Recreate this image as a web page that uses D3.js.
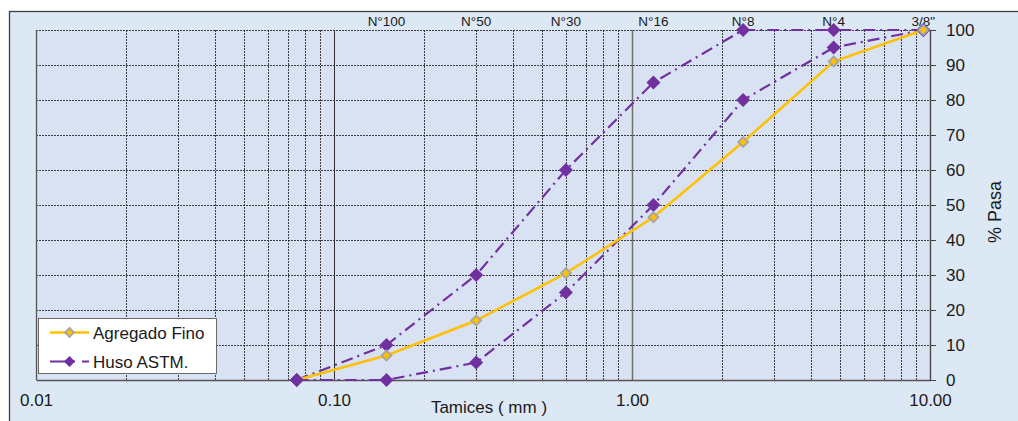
<!DOCTYPE html>
<html>
<head>
<meta charset="utf-8">
<script src="https://cdn.jsdelivr.net/npm/d3@7"></script>
<style>
  html, body { margin: 0; padding: 0; background: #ffffff; }
  svg { display: block; font-family: "Liberation Sans", Arial, sans-serif; }
</style>
</head>
<body>
<svg id="chart" width="1018" height="421"></svg>
<script>
// ---- data ----
const sieveSizes = [0.075, 0.15, 0.3, 0.6, 1.18, 2.36, 4.75, 9.5];
const sieveLabels = ["", "N°100", "N°50", "N°30", "N°16", "N°8", "N°4", "3/8\""];
const agregadoFino = [0, 7, 17, 30.5, 46.5, 68, 91, 100];
const husoSuperior = [0, 10, 30, 60, 85, 100, 100, 100];
const husoInferior = [0, 0, 5, 25, 50, 80, 95, 100];
const xTickValues = [0.01, 0.1, 1, 10];
const xTickLabels = ["0.01", "0.10", "1.00", "10.00"];
const yTickValues = [0, 10, 20, 30, 40, 50, 60, 70, 80, 90, 100];
const seriesNames = ["Agregado Fino", "Huso ASTM."];

// ---- layout ----
const svg = d3.select("#chart");
const plot = { left: 36, top: 30, right: 930, bottom: 380 };
const x = d3.scaleLog().domain([0.01, 10]).range([plot.left, plot.right]);
const y = d3.scaleLinear().domain([0, 100]).range([plot.bottom, plot.top]);

// outer panel
svg.append("rect").attr("x", 9.5).attr("y", 11.5).attr("width", 1020).attr("height", 420)
  .attr("fill", "#dde8f5").attr("stroke", "#404040").attr("stroke-width", 1.3);

// plot background
svg.append("rect").attr("x", plot.left).attr("y", plot.top)
  .attr("width", plot.right - plot.left).attr("height", plot.bottom - plot.top)
  .attr("fill", "#d9e2f2");

// vertical grid (minor)
const minor = [];
[0.01, 0.1, 1].forEach(d => { for (let k = 2; k <= 9; k++) minor.push(d * k); });
svg.append("g").selectAll("line").data(minor).join("line")
  .attr("x1", d => Math.round(x(d)) + 0.5).attr("x2", d => Math.round(x(d)) + 0.5)
  .attr("y1", plot.top).attr("y2", plot.bottom)
  .attr("stroke", "#202020").attr("stroke-width", 1).attr("stroke-dasharray", "2,1")
  .attr("opacity", 0.85);

// horizontal grid
svg.append("g").selectAll("line").data(yTickValues.filter(d => d > 0)).join("line")
  .attr("x1", plot.left).attr("x2", plot.right)
  .attr("y1", d => Math.round(y(d)) + 0.5).attr("y2", d => Math.round(y(d)) + 0.5)
  .attr("stroke", "#202020").attr("stroke-width", 1).attr("stroke-dasharray", "2,1")
  .attr("opacity", 0.85);

// major vertical lines
svg.append("g").selectAll("line").data([0.1, 1]).join("line")
  .attr("x1", d => Math.round(x(d)) + 0.5).attr("x2", d => Math.round(x(d)) + 0.5)
  .attr("y1", plot.top).attr("y2", plot.bottom)
  .attr("stroke", (d, i) => i === 0 ? "#303030" : "#707070").attr("stroke-width", (d, i) => i === 0 ? 1 : 1.5);

// left border line
svg.append("line").attr("x1", plot.left + 0.5).attr("x2", plot.left + 0.5)
  .attr("y1", plot.top).attr("y2", plot.bottom).attr("stroke", "#555").attr("stroke-width", 1.3);

// bottom axis
const xAxis = d3.axisBottom(x).tickValues(xTickValues)
  .tickFormat((d, i) => xTickLabels[i]).tickSize(0).tickPadding(14);
const gx = svg.append("g").attr("transform", `translate(0,${plot.bottom})`).call(xAxis);
gx.select(".domain").attr("stroke", "#555").attr("stroke-width", 1.3);
gx.selectAll("text").attr("font-size", 17).attr("fill", "#1a1a1a")
  .attr("font-family", "Liberation Sans, Arial, sans-serif");

// right axis
const yAxis = d3.axisRight(y).tickValues(yTickValues).tickSize(6).tickPadding(10);
const gy = svg.append("g").attr("transform", `translate(${plot.right},0)`).call(yAxis);
gy.select(".domain").attr("stroke", "#404040").attr("stroke-width", 1.3)
  .attr("d", `M0.5,${plot.top}V${plot.bottom}`);
gy.selectAll(".tick line").attr("stroke", "#404040");
gy.selectAll("text").attr("font-size", 17).attr("fill", "#1a1a1a")
  .attr("font-family", "Liberation Sans, Arial, sans-serif");

// top sieve labels
svg.append("g").selectAll("text").data(sieveSizes).join("text")
  .attr("x", d => x(d)).attr("y", 26).attr("text-anchor", "middle")
  .attr("font-size", 13.5).attr("fill", "#1a1a1a")
  .text((d, i) => sieveLabels[i]);

// axis titles
svg.append("text").attr("x", 489).attr("y", 413).attr("text-anchor", "middle")
  .attr("font-size", 17).attr("fill", "#1a1a1a").text("Tamices ( mm )");
svg.append("text").attr("transform", "translate(1001,212) rotate(-90)")
  .attr("text-anchor", "middle").attr("font-size", 18).attr("fill", "#1a1a1a").text("% Pasa");

// lines
const line = d3.line().x(d => x(d[0])).y(d => y(d[1]));
const purple = "#7030a0", orange = "#ffc000";
const dashDot = "12,5,2,5";
const upperPts = sieveSizes.map((s, i) => [s, husoSuperior[i]]);
const lowerPts = sieveSizes.map((s, i) => [s, husoInferior[i]]);
const finoPts = sieveSizes.map((s, i) => [s, agregadoFino[i]]);

[upperPts, lowerPts].forEach(pts => {
  svg.append("path").datum(pts).attr("d", line).attr("fill", "none")
    .attr("stroke", purple).attr("stroke-width", 2.2).attr("stroke-dasharray", dashDot);
});
svg.append("path").datum(finoPts).attr("d", line).attr("fill", "none")
  .attr("stroke", orange).attr("stroke-width", 2.5);

const diamond = (cx, cy, r) => `M${cx},${cy - r}L${cx + r},${cy}L${cx},${cy + r}L${cx - r},${cy}Z`;
[upperPts, lowerPts].forEach(pts => {
  svg.append("g").selectAll("path").data(pts).join("path")
    .attr("d", d => diamond(x(d[0]), y(d[1]), 7)).attr("fill", purple);
});
svg.append("g").selectAll("path").data(finoPts.slice(1)).join("path")
  .attr("d", d => diamond(x(d[0]), y(d[1]), 5)).attr("fill", orange)
  .attr("stroke", "#a6a6a6").attr("stroke-width", 1.8);

// legend
const lg = svg.append("g");
lg.append("rect").attr("x", 38.5).attr("y", 318.5).attr("width", 178).attr("height", 55)
  .attr("fill", "#ffffff").attr("stroke", "#6a6a6a").attr("stroke-width", 1);
// entry 1
lg.append("line").attr("x1", 50).attr("x2", 89).attr("y1", 332.5).attr("y2", 332.5)
  .attr("stroke", orange).attr("stroke-width", 2.5);
lg.append("path").attr("d", diamond(69.5, 332.5, 4.5)).attr("fill", orange)
  .attr("stroke", "#a6a6a6").attr("stroke-width", 1.8);
lg.append("text").attr("x", 93).attr("y", 338.5).attr("font-size", 17).attr("fill", "#1a1a1a").text(seriesNames[0]);
// entry 2
lg.append("line").attr("x1", 50).attr("x2", 89).attr("y1", 361.5).attr("y2", 361.5)
  .attr("stroke", purple).attr("stroke-width", 2.2).attr("stroke-dasharray", "25,7,7");
lg.append("path").attr("d", diamond(69.5, 361.5, 5.5)).attr("fill", purple);
lg.append("text").attr("x", 93).attr("y", 367.5).attr("font-size", 17).attr("fill", "#1a1a1a").text(seriesNames[1]);
</script>
</body>
</html>
